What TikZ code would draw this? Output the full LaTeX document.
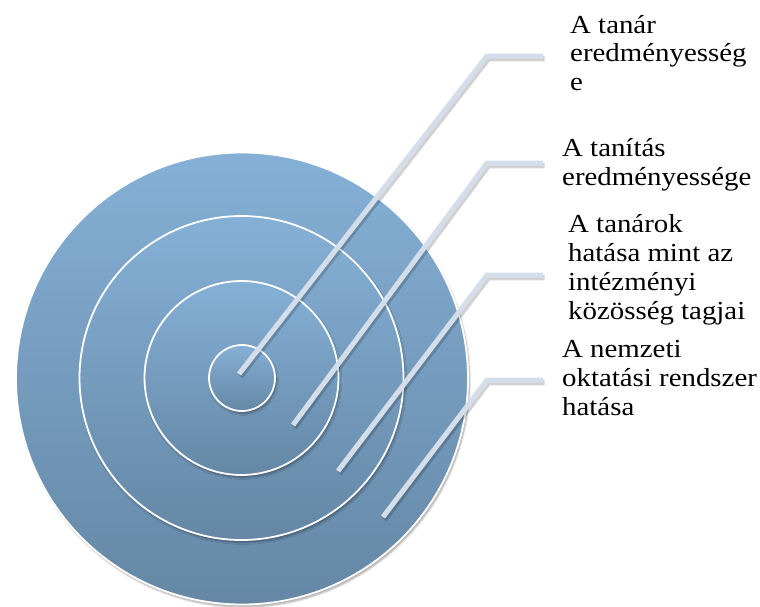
\documentclass[tikz,border=0pt]{standalone}
\usepackage{fontspec}
\setmainfont[FakeStretch=1.11]{Liberation Serif}
\usetikzlibrary{shadows.blur}
\definecolor{ctop}{RGB}{133,176,214}
\definecolor{cbot}{RGB}{101,135,165}
\definecolor{leadc}{RGB}{212,222,234}
\begin{document}
\begin{tikzpicture}[x=1pt,y=1pt,
  ring/.style={circle, draw=white, line width=1.8pt, top color=ctop, bottom color=cbot,
    blur shadow={shadow xshift=1.5pt, shadow yshift=-2.5pt, shadow opacity=35, shadow blur steps=6},
    inner sep=0pt},
  lbl/.style={anchor=base west, align=left, inner sep=0pt, font=\fontsize{26}{28.7}\selectfont},
  leader/.style={draw=leadc, line width=5pt},
  leadshadow/.style={draw=black, opacity=0.18, line width=5.5pt, transform canvas={shift={(1.5pt,-2.5pt)}}}]
\useasboundingbox (0,0) rectangle (760,-606);
\node[ring, minimum size=452pt] (c4) at (242,-378.5) {};
\node[ring, minimum size=324pt] (c3) at (241.5,-378) {};
\node[ring, minimum size=194pt] (c2) at (241.5,-378) {};
\node[ring, minimum size=66pt] (c1) at (242,-378) {};
% leader coordinates
\coordinate (s1) at (239,-374); \coordinate (b1) at (487,-56);  \coordinate (e1) at (543,-56);
\coordinate (s2) at (293,-425); \coordinate (b2) at (487,-163); \coordinate (e2) at (543,-163);
\coordinate (s3) at (338,-471); \coordinate (b3) at (487,-275); \coordinate (e3) at (543,-275);
\coordinate (s4) at (383,-517); \coordinate (b4) at (487,-380); \coordinate (e4) at (543,-380);
\foreach \i in {1,...,4}{
  \draw[leadshadow] (s\i) -- (b\i) -- (e\i);
}
\foreach \i in {1,...,4}{
  \draw[leader] (s\i) -- (b\i) -- (e\i);
}
% anchor = baseline of the last line
\node[lbl] (t1) at (570,-90.5) {A tanár\\eredményesség\\e};
\node[lbl] (t2) at (562,-185) {A tanítás\\eredményessége};
\node[lbl] (t3) at (568,-319) {A tanárok\\hatása mint az\\intézményi\\közösség tagjai};
\node[lbl] (t4) at (562,-415) {A nemzeti\\oktatási rendszer\\hatása};
\end{tikzpicture}
\end{document}
